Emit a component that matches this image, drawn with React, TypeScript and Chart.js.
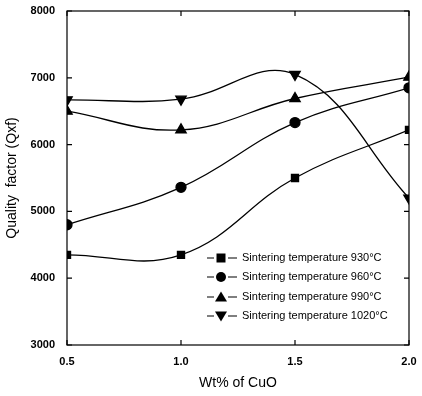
import React, { useEffect, useRef } from "react";
import { Chart, registerables } from "chart.js";

Chart.register(...registerables);

const cuo = [0.5, 1.0, 1.5, 2.0];
const q930 = [4350, 4350, 5500, 6220];
const q960 = [4800, 5360, 6330, 6850];
const q990 = [6500, 6220, 6690, 7010];
const q1020 = [6670, 6680, 7050, 5200];
const labels = [
  "Sintering temperature 930°C",
  "Sintering temperature 960°C",
  "Sintering temperature 990°C",
  "Sintering temperature 1020°C",
];
const yTicks = [3000, 4000, 5000, 6000, 7000, 8000];
const xTicks = [0.5, 1.0, 1.5, 2.0];

const FONT = "'Liberation Sans', Arial, sans-serif";

const framePlugin = {
  id: "frame",
  afterDraw(chart: any) {
    const { ctx, chartArea: a, scales } = chart;
    ctx.save();
    ctx.strokeStyle = "#000";
    ctx.lineWidth = 1.2;
    ctx.strokeRect(a.left, a.top, a.right - a.left, a.bottom - a.top);
    ctx.beginPath();
    yTicks.forEach((v) => {
      const y = scales.y.getPixelForValue(v);
      ctx.moveTo(a.left, y);
      ctx.lineTo(a.left + 5, y);
      ctx.moveTo(a.right, y);
      ctx.lineTo(a.right - 5, y);
    });
    xTicks.forEach((v) => {
      const x = scales.x.getPixelForValue(v);
      ctx.moveTo(x, a.bottom);
      ctx.lineTo(x, a.bottom - 5);
      ctx.moveTo(x, a.top);
      ctx.lineTo(x, a.top + 5);
    });
    ctx.stroke();

    // legend
    const lx = a.left + 140;
    const rows = [258, 277, 297, 316];
    chart.data.datasets.forEach((ds: any, i: number) => {
      const y = rows[i];
      ctx.beginPath();
      ctx.lineWidth = 1.2;
      ctx.moveTo(lx, y);
      ctx.lineTo(lx + 7, y);
      ctx.moveTo(lx + 21, y);
      ctx.lineTo(lx + 30, y);
      ctx.stroke();
      ctx.fillStyle = "#000";
      const cx = lx + 14;
      const r = 5;
      ctx.beginPath();
      if (ds.pointStyle === "rect") {
        ctx.rect(cx - 4.5, y - 4.5, 9, 9);
      } else if (ds.pointStyle === "circle") {
        ctx.arc(cx, y, r, 0, Math.PI * 2);
      } else if (ds.pointRotation === 180) {
        ctx.moveTo(cx - 6, y - 4.5);
        ctx.lineTo(cx + 6, y - 4.5);
        ctx.lineTo(cx, y + 5.5);
      } else {
        ctx.moveTo(cx - 6, y + 4.5);
        ctx.lineTo(cx + 6, y + 4.5);
        ctx.lineTo(cx, y - 5.5);
      }
      ctx.closePath();
      ctx.fill();
      ctx.font = `11px ${FONT}`;
      ctx.textBaseline = "middle";
      ctx.fillText(ds.label, lx + 35, y);
    });
    ctx.restore();
  },
};

export default function App() {
  const ref = useRef<HTMLCanvasElement | null>(null);
  useEffect(() => {
    document.body.style.margin = "0";
    const mk = (label: string, data: number[], style: string, rot = 0) => ({
      label,
      data: cuo.map((x, i) => ({ x, y: data[i] })),
      borderColor: "#000",
      backgroundColor: "#000",
      borderWidth: 1.3,
      pointStyle: style,
      pointRotation: rot,
      pointRadius: style === "triangle" ? 6 : 5,
      pointBackgroundColor: "#000",
      pointBorderColor: "#000",
      tension: 0.4,
      fill: false,
    });
    const chart = new Chart(ref.current!, {
      type: "line",
      data: {
        datasets: [
          mk(labels[0], q930, "rect"),
          mk(labels[1], q960, "circle"),
          mk(labels[2], q990, "triangle"),
          mk(labels[3], q1020, "triangle", 180),
        ],
      },
      options: {
        animation: false,
        responsive: false,
        layout: { padding: { top: 11, right: 13, left: 0, bottom: 0 } },
        plugins: { legend: { display: false }, tooltip: { enabled: false } },
        scales: {
          x: {
            type: "linear",
            min: 0.5,
            max: 2.0,
            afterBuildTicks: (s: any) => {
              s.ticks = xTicks.map((v) => ({ value: v }));
            },
            afterFit: (s: any) => {
              s.height = 51;
            },
            grid: { display: false },
            border: { display: false },
            ticks: {
              color: "#000",
              font: { family: FONT, size: 11, weight: "bold" },
              padding: 2,
              callback: (v: any) => Number(v).toFixed(1),
            },
            title: {
              display: true,
              text: "Wt% of CuO",
              color: "#000",
              font: { family: FONT, size: 14 },
              padding: { top: 10 },
            },
          },
          y: {
            min: 3000,
            max: 8000,
            afterBuildTicks: (s: any) => {
              s.ticks = yTicks.map((v) => ({ value: v }));
            },
            afterFit: (s: any) => {
              s.width = 67;
            },
            grid: { display: false },
            border: { display: false },
            ticks: {
              color: "#000",
              font: { family: FONT, size: 11, weight: "bold" },
              padding: 4,
              callback: (v: any) => String(v),
            },
            title: {
              display: true,
              text: "Quality  factor (Qxf)",
              color: "#000",
              font: { family: FONT, size: 14 },
              padding: { bottom: 2 },
            },
          },
        },
      } as any,
      plugins: [framePlugin],
    });
    return () => chart.destroy();
  }, []);
  return <canvas ref={ref} width={422} height={396} style={{ display: "block" }} />;
}
